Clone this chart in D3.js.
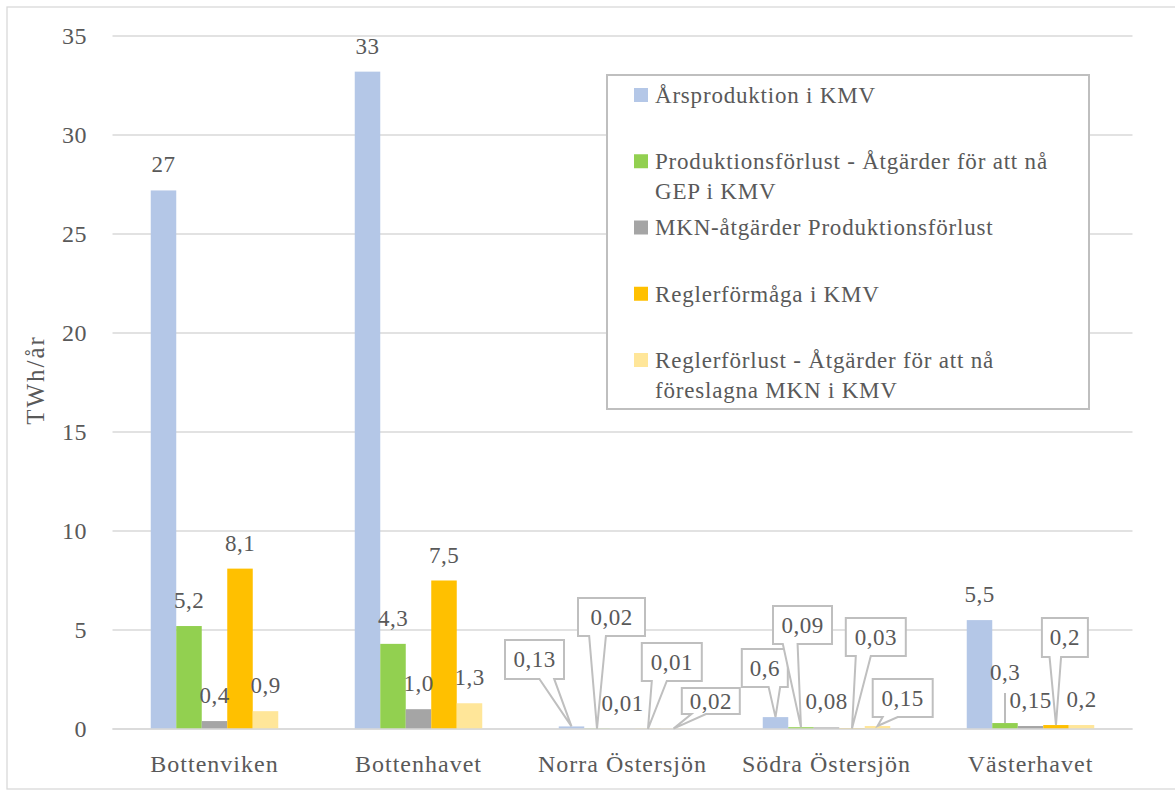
<!DOCTYPE html>
<html>
<head>
<meta charset="utf-8">
<script src="https://cdn.jsdelivr.net/npm/d3@7"></script>
<style>
  body { margin: 0; background: #fff; }
  svg text { font-family: "Liberation Serif", "Times New Roman", serif; fill: #595959; }
</style>
</head>
<body>
<svg id="chart" width="1175" height="796"></svg>
<script>
// data
const categories = ["Bottenviken", "Bottenhavet", "Norra Östersjön", "Södra Östersjön", "Västerhavet"];
const seriesNames = [
  "Årsproduktion i KMV",
  "Produktionsförlust - Åtgärder för att nå GEP i KMV",
  "MKN-åtgärder Produktionsförlust",
  "Reglerförmåga i KMV",
  "Reglerförlust - Åtgärder för att nå föreslagna MKN i KMV"
];
const arsproduktion   = [27.2, 33.2, 0.13, 0.6, 5.5];
const prodforlustGEP  = [5.2, 4.3, 0.02, 0.09, 0.3];
const mknProdforlust  = [0.4, 1.0, 0.01, 0.08, 0.15];
const reglerformaga   = [8.1, 7.5, 0.01, 0.03, 0.2];
const reglerforlust   = [0.9, 1.3, 0.02, 0.15, 0.2];
const seriesValues = [arsproduktion, prodforlustGEP, mknProdforlust, reglerformaga, reglerforlust];

// label texts as printed in the chart
const labelTexts = [
  ["27", "33", "0,13", "0,6", "5,5"],
  ["5,2", "4,3", "0,02", "0,09", "0,3"],
  ["0,4", "1,0", "0,01", "0,08", "0,15"],
  ["8,1", "7,5", "0,01", "0,03", "0,2"],
  ["0,9", "1,3", "0,02", "0,15", "0,2"]
];
const yTicks = [0, 5, 10, 15, 20, 25, 30, 35];

const colors = ["#B4C7E7", "#92D050", "#A5A5A5", "#FFC000", "#FFE699"];

// callout boxes placed by hand in the original: [box centre dx, dy from bar top, w, h]
const callouts = {
  "0-2": [-37, -67, 59, 39],
  "1-2": [14.5, -111.6, 67, 38],
  "3-2": [23.8, -66.8, 60, 38],
  "4-2": [37.3, -27.6, 58, 26],
  "0-3": [-10.7, -49.1, 46, 38],
  "1-3": [1.5, -102.2, 59, 38],
  "3-3": [23.8, -91.4, 60, 38],
  "4-3": [25.2, -28, 60, 38],
  "3-4": [8.9, -87.5, 46, 39]
};
// labels pulled up with a straight leader line
const leaders = { "1-4": -43 };

const svg = d3.select("#chart");

// outer chart border
svg.append("rect")
  .attr("x", 7).attr("y", 7)
  .attr("width", 1180).attr("height", 782)
  .attr("fill", "none").attr("stroke", "#D9D9D9").attr("stroke-width", 1.3);

const x0 = d3.scaleBand().domain(categories).range([112.5, 1132.5])
  .paddingInner(0.375).paddingOuter(0.1875);
const x1 = d3.scaleBand().domain(d3.range(seriesNames.length)).range([0, x0.bandwidth()]);
const y = d3.scaleLinear().domain([0, 35]).range([729, 36]);

// gridlines
svg.append("g").selectAll("line")
  .data(yTicks)
  .join("line")
  .attr("x1", 112.5).attr("x2", 1132.5)
  .attr("y1", d => y(d)).attr("y2", d => y(d))
  .attr("stroke", "#D9D9D9").attr("stroke-width", 1.5);

// tick labels
svg.append("g").selectAll("text")
  .data(yTicks)
  .join("text")
  .attr("x", 87).attr("y", d => y(d))
  .attr("dy", "0.35em")
  .attr("text-anchor", "end")
  .style("font-size", "24px")
  .style("letter-spacing", "0.5px")
  .text(d => d);

// axis title
svg.append("text")
  .attr("transform", "translate(44,380) rotate(-90)")
  .attr("text-anchor", "middle")
  .style("font-size", "25px")
  .style("letter-spacing", "2px")
  .text("TWh/år");

// category labels
svg.append("g").selectAll("text")
  .data(categories)
  .join("text")
  .attr("x", d => x0(d) + x0.bandwidth() / 2)
  .attr("y", 772)
  .attr("text-anchor", "middle")
  .style("font-size", "24px")
  .style("letter-spacing", "1px")
  .text(d => d);

// flatten bars
const bars = [];
seriesValues.forEach((vals, si) => {
  vals.forEach((v, ci) => {
    bars.push({ si, ci, v, label: labelTexts[si][ci], key: `${si}-${ci}` });
  });
});
bars.forEach(d => {
  d.cx = x0(categories[d.ci]) + x1(d.si) + x1.bandwidth() / 2;
  d.top = y(d.v);
});

svg.append("g").selectAll("rect")
  .data(bars)
  .join("rect")
  .attr("x", d => x0(categories[d.ci]) + x1(d.si))
  .attr("y", d => y(d.v))
  .attr("width", x1.bandwidth())
  .attr("height", d => y(0) - y(d.v))
  .attr("fill", d => colors[d.si]);

// baseline
svg.append("line")
  .attr("x1", 112.5).attr("x2", 1132.5)
  .attr("y1", y(0)).attr("y2", y(0))
  .attr("stroke", "#D9D9D9").attr("stroke-width", 1.5);

// wedge rect callout path, same geometry rules as the office preset shape
function wedgePath(l, t, w, h, tx, ty) {
  const r = l + w, b = t + h, hc = l + w / 2, vc = t + h / 2;
  const dx = tx - hc, dy = ty - vc;
  const dq = dx * h / w;
  const dz = Math.abs(dy) - Math.abs(dq);
  const xa = l + w * (dx > 0 ? 7 : 2) / 12, xb = l + w * (dx > 0 ? 10 : 5) / 12;
  const ya = t + h * (dy > 0 ? 7 : 2) / 12, yb = t + h * (dy > 0 ? 10 : 5) / 12;
  const p = d3.path();
  p.moveTo(l, t);
  if (dz > 0 && dy < 0) { p.lineTo(xa, t); p.lineTo(tx, ty); p.lineTo(xb, t); }
  p.lineTo(r, t);
  if (dz <= 0 && dx > 0) { p.lineTo(r, ya); p.lineTo(tx, ty); p.lineTo(r, yb); }
  p.lineTo(r, b);
  if (dz > 0 && dy > 0) { p.lineTo(xb, b); p.lineTo(tx, ty); p.lineTo(xa, b); }
  p.lineTo(l, b);
  if (dz <= 0 && dx < 0) { p.lineTo(l, yb); p.lineTo(tx, ty); p.lineTo(l, ya); }
  p.closePath();
  return p.toString();
}

const labelG = svg.append("g");
const labelSize = "23px", labelSpacing = "0.5px";

bars.forEach(d => {
  const c = callouts[d.key];
  if (c) {
    const bx = d.cx + c[0], by = d.top + c[1];
    labelG.append("path")
      .attr("d", wedgePath(bx - c[2] / 2, by - c[3] / 2, c[2], c[3], d.cx, d.top))
      .attr("fill", "#fff").attr("stroke", "#BFBFBF").attr("stroke-width", 2);
    labelG.append("text")
      .attr("x", bx).attr("y", by).attr("dy", "0.34em")
      .attr("text-anchor", "middle")
      .style("font-size", labelSize).style("letter-spacing", labelSpacing)
      .text(d.label);
  } else if (leaders[d.key] !== undefined) {
    const ty = d.top + leaders[d.key];
    labelG.append("line")
      .attr("x1", d.cx).attr("x2", d.cx)
      .attr("y1", ty + 13).attr("y2", d.top)
      .attr("stroke", "#A6A6A6").attr("stroke-width", 1.5);
    labelG.append("text")
      .attr("x", d.cx).attr("y", ty)
      .attr("text-anchor", "middle")
      .style("font-size", labelSize).style("letter-spacing", labelSpacing)
      .text(d.label);
  } else {
    labelG.append("text")
      .attr("x", d.cx).attr("y", d.top - 18)
      .attr("text-anchor", "middle")
      .style("font-size", labelSize).style("letter-spacing", labelSpacing)
      .text(d.label);
  }
});

// legend
const legend = svg.append("g");
legend.append("rect")
  .attr("x", 607).attr("y", 75).attr("width", 482).attr("height", 334)
  .attr("fill", "#fff").attr("stroke", "#BFBFBF").attr("stroke-width", 2);

const legendRowY = d3.scaleLinear().domain([0, 4]).range([95, 360]);
seriesNames.forEach((name, i) => {
  const cy = legendRowY(i);
  legend.append("rect")
    .attr("x", 634).attr("y", cy - 7).attr("width", 14).attr("height", 14)
    .attr("fill", colors[i]);
  const txt = legend.append("text")
    .attr("x", 655).attr("y", cy)
    .style("font-size", "23px").style("letter-spacing", "0.8px");
  // simple word wrap
  const words = name.split(" ");
  let line = [];
  let tspan = txt.append("tspan").attr("x", 655).attr("dy", "0.34em");
  words.forEach(w => {
    line.push(w);
    tspan.text(line.join(" "));
    if (tspan.node().getComputedTextLength() > 425 && line.length > 1) {
      line.pop();
      tspan.text(line.join(" "));
      line = [w];
      tspan = txt.append("tspan").attr("x", 655).attr("dy", "30px").text(w);
    }
  });
});
</script>
</body>
</html>
